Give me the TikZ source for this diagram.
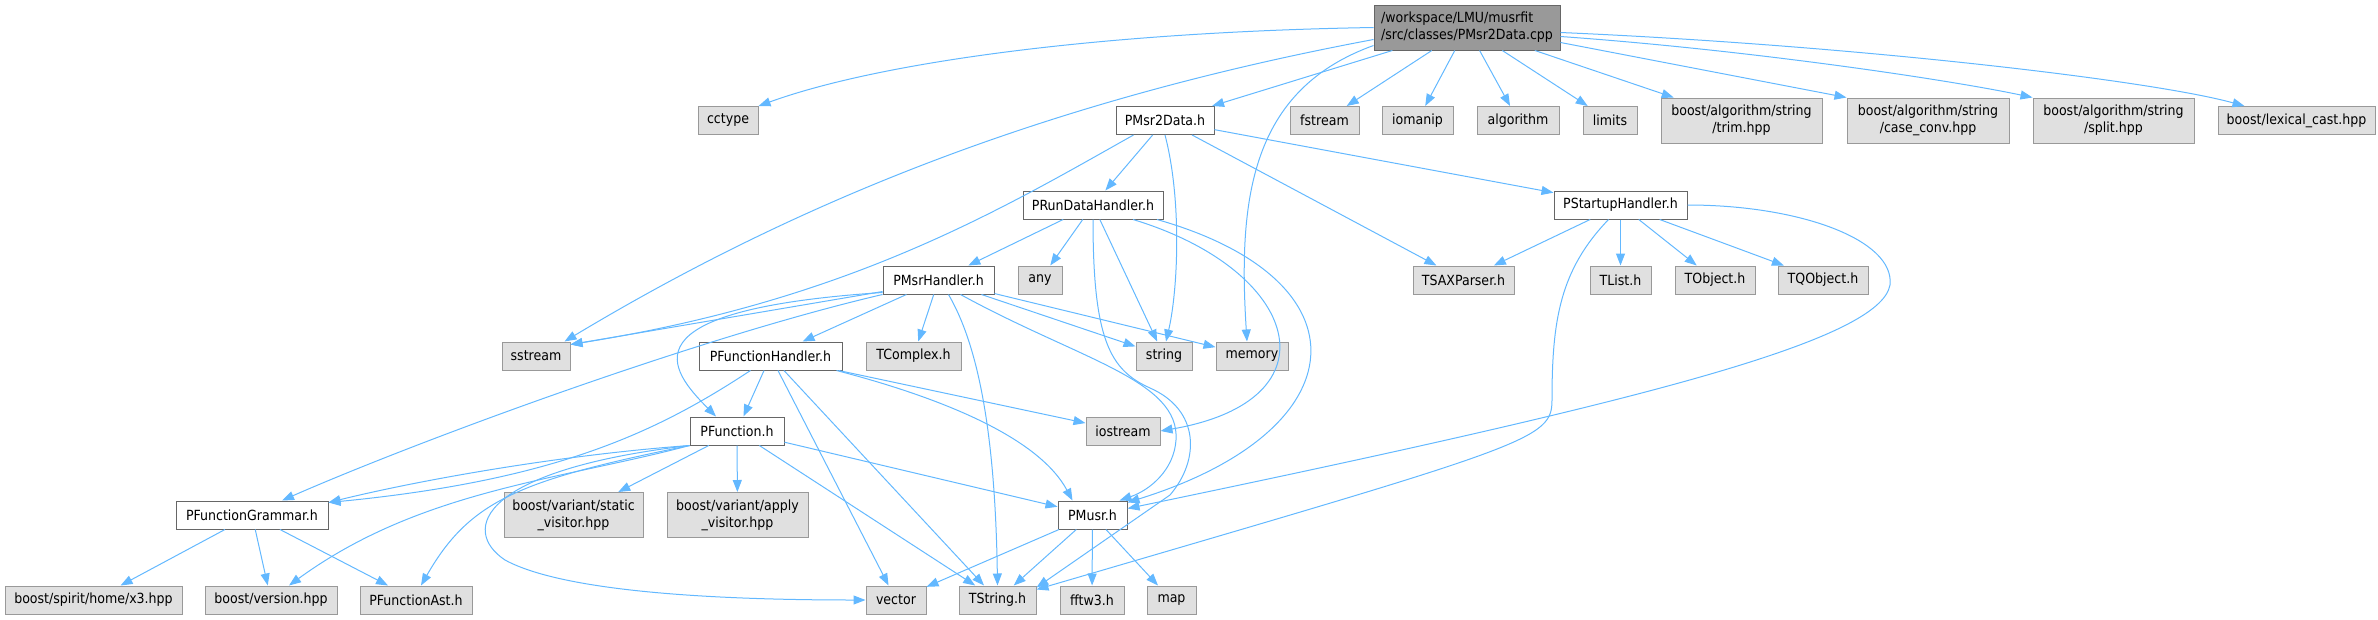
\documentclass[tikz,border=0pt]{standalone}
\usepackage{fontspec}
\setmainfont{DejaVu Sans Condensed}
\usetikzlibrary{arrows.meta}
\usetikzlibrary{positioning}
\definecolor{edgeblue}{HTML}{63B8FF}
\definecolor{boxgray}{HTML}{E0E0E0}
\definecolor{linegray}{HTML}{999999}
\definecolor{darkgray}{HTML}{666666}

\begin{document}
\begin{tikzpicture}[x=1pt,y=-1pt,
    box/.style={rectangle,inner sep=0pt,minimum height=28,line width=1pt,
        font=\fontsize{14}{17}\selectfont},
    cur/.style={box,draw=darkgray,fill=linegray,align=left,minimum height=45},
    loc/.style={box,draw=darkgray,fill=white},
    sys/.style={box,draw=linegray,fill=boxgray},
    two/.style={align=center,minimum height=45},
    inc/.style={draw=edgeblue,line width=1pt,-{Triangle[length=12pt,width=9pt]}}]
\useasboundingbox (0,0) rectangle (2378,619);

\node (cpp) [cur,minimum width=186] at (1467,27.5) {/workspace/LMU/musrfit\\/src/classes/PMsr2Data.cpp};

\node (cctype) [sys,minimum width=60] at (728,120.5) {cctype};
\node (p2dh) [loc,minimum width=98] at (1165,120.5) {PMsr2Data.h};
\node (fstream) [sys,minimum width=69] at (1324.5,120.5) {fstream};
\node (iomanip) [sys,minimum width=71] at (1417.5,120.5) {iomanip};
\node (algorithm) [sys,minimum width=82] at (1518,120.5) {algorithm};
\node (limits) [sys,minimum width=54] at (1610,120.5) {limits};
\node (trim) [sys,two,minimum width=161] at (1741.5,120.5) {boost/algorithm/string\\/trim.hpp};
\node (caseconv) [sys,two,minimum width=162] at (1928,120.5) {boost/algorithm/string\\/case\_conv.hpp};
\node (split) [sys,two,minimum width=161] at (2113.5,120.5) {boost/algorithm/string\\/split.hpp};
\node (lexcast) [sys,minimum width=157] at (2296.5,120.5) {boost/lexical\_cast.hpp};

\node (rdh) [loc,minimum width=140] at (1093,205) {PRunDataHandler.h};
\node (suh) [loc,minimum width=133] at (1620.5,205) {PStartupHandler.h};

\node (msrh) [loc,minimum width=111] at (938.5,280) {PMsrHandler.h};
\node (any) [sys,minimum width=44] at (1040,280) {any};
\node (saxp) [sys,minimum width=101] at (1463.5,280) {TSAXParser.h};
\node (tlist) [sys,minimum width=61] at (1620.5,280) {TList.h};
\node (tobject) [sys,minimum width=80] at (1715,280) {TObject.h};
\node (tqobject) [sys,minimum width=90] at (1823,280) {TQObject.h};

\node (sstream) [sys,minimum width=68] at (536,356) {sstream};
\node (fnh) [loc,minimum width=143] at (770.5,356) {PFunctionHandler.h};
\node (tcomplex) [sys,minimum width=95] at (913.5,356) {TComplex.h};
\node (string) [sys,minimum width=56] at (1164,356) {string};
\node (memory) [sys,minimum width=72] at (1252,356) {memory};

\node (func) [loc,minimum width=94] at (737,431) {PFunction.h};
\node (iostream) [sys,minimum width=74] at (1123,431) {iostream};

\node (fng) [loc,minimum width=152] at (252,515) {PFunctionGrammar.h};
\node (statvis) [sys,two,minimum width=139] at (573.5,515) {boost/variant/static\\\_visitor.hpp};
\node (applyvis) [sys,two,minimum width=141] at (737.5,515) {boost/variant/apply\\\_visitor.hpp};
\node (musr) [loc,minimum width=69] at (1092.5,515) {PMusr.h};

\node (x3) [sys,minimum width=177] at (93.5,600) {boost/spirit/home/x3.hpp};
\node (version) [sys,minimum width=132] at (271,600) {boost/version.hpp};
\node (fnast) [sys,minimum width=112] at (416,600) {PFunctionAst.h};
\node (vector) [sys,minimum width=60] at (896,600) {vector};
\node (tstring) [sys,minimum width=77] at (997.5,600) {TString.h};
\node (fftw) [sys,minimum width=64] at (1092,600) {fftw3.h};
\node (map) [sys,minimum width=49] at (1171.5,600) {map};

\draw[inc] (cpp.west) .. controls (1100,32) and (880,62) .. (cctype.north east);
\draw[inc] ([yshift=-12]cpp.west) .. controls (1050,100) and (800,200) .. ([xshift=-6]sstream.north east);
\draw[inc] ([yshift=-18]cpp.west) .. controls (1250,90) and (1238,200) .. ([xshift=-5]memory.north);
\draw[inc] (cpp) -- (p2dh);
\draw[inc] (cpp) -- (fstream);
\draw[inc] (cpp) -- (iomanip);
\draw[inc] (cpp) -- (algorithm);
\draw[inc] (cpp) -- (limits);
\draw[inc] (cpp) -- (trim);
\draw[inc] ([yshift=-15]cpp.east) -- (caseconv.north west);
\draw[inc] ([yshift=-9]cpp.east) .. controls (1750,50) and (1950,80) .. (split.north west);
\draw[inc] ([yshift=-5]cpp.east) .. controls (1850,45) and (2150,80) .. ([xshift=27]lexcast.north west);

\draw[inc] (p2dh) -- (rdh);
\draw[inc] (p2dh) -- (suh);
\draw[inc] (p2dh) -- (saxp);
\draw[inc] (p2dh.south) .. controls (1182,200) and (1178,290) .. ([xshift=2]string.north);
\draw[inc] ([xshift=18]p2dh.south west) .. controls (1000,210) and (850,300) .. ([yshift=-3]sstream.north east);

\draw[inc] (rdh) -- (msrh);
\draw[inc] (rdh) -- (any);
\draw[inc] (rdh) -- (string);
\draw[inc] (rdh.south) .. controls (1093,340) and (1110,370) .. (1150,388) .. controls (1200,410) and (1200,460) .. (1170,495) -- ([yshift=-2]tstring.north east);
\draw[inc] ([xshift=40]rdh.south) .. controls (1300,270) and (1340,400) .. (iostream.east);
\draw[inc] ([xshift=64]rdh.south) .. controls (1370,280) and (1360,430) .. ([yshift=-2]musr.north east);

\draw[inc] (suh) -- (saxp);
\draw[inc] (suh) -- (tlist);
\draw[inc] (suh) -- (tobject);
\draw[inc] (suh) -- (tqobject);
\draw[inc] ([xshift=-12]suh.south) .. controls (1560,270) and (1552,320) .. (1552,400) .. controls (1552,440) and (1530,445) .. ([yshift=-4]tstring.north east);
\draw[inc] (suh.east) .. controls (1800,205) and (1895,240) .. (1890,285) .. controls (1880,340) and (1650,400) .. ([yshift=-8]musr.north east);

\draw[inc] ([yshift=3]msrh.south west) -- ([yshift=-3]sstream.north east);
\draw[inc] (msrh.south west) .. controls (700,337) and (420,440) .. ([xshift=30]fng.north);
\draw[inc] ([yshift=2]msrh.south west) .. controls (620,310) and (670,370) .. ([xshift=-21]func.north);
\draw[inc] (msrh) -- (fnh);
\draw[inc] (msrh) -- (tcomplex);
\draw[inc] ([xshift=10]msrh.south) .. controls (975,340) and (995,420) .. (tstring.north);
\draw[inc] ([xshift=22]msrh.south) .. controls (1080,360) and (1180,380) .. (1176,440) .. controls (1174,470) and (1150,490) .. ([xshift=-8]musr.north east);
\draw[inc] (msrh) -- (string);
\draw[inc] (msrh) -- (memory);

\draw[inc] (fnh) -- (func);
\draw[inc] ([xshift=-20]fnh.south) .. controls (660,430) and (560,480) .. ([yshift=-2]fng.north east);
\draw[inc] (fnh) -- (vector);
\draw[inc] (fnh) -- (tstring);
\draw[inc] (fnh) -- (iostream);
\draw[inc] ([xshift=66]fnh.south) .. controls (950,400) and (1040,440) .. ([xshift=15]musr.north west);

\draw[inc] (func.south west) .. controls (560,455) and (420,480) .. ([yshift=-2]fng.north east);
\draw[inc] (func.south west) .. controls (560,480) and (420,490) .. ([xshift=18]version.north);
\draw[inc] (func.south west) .. controls (520,480) and (470,500) .. ([xshift=5]fnast.north);
\draw[inc] (func.south west) .. controls (480,470) and (460,530) .. (505,560) .. controls (560,590) and (700,600) .. (vector.west);
\draw[inc] (func) -- (statvis);
\draw[inc] (func) -- (applyvis);
\draw[inc] (func) -- (tstring);
\draw[inc] (func) -- (musr);

\draw[inc] (fng) -- (x3);
\draw[inc] (fng) -- (version);
\draw[inc] (fng) -- (fnast);

\draw[inc] (musr) -- (vector);
\draw[inc] (musr) -- (tstring);
\draw[inc] (musr) -- (fftw);
\draw[inc] (musr) -- (map);
\end{tikzpicture}
\end{document}
